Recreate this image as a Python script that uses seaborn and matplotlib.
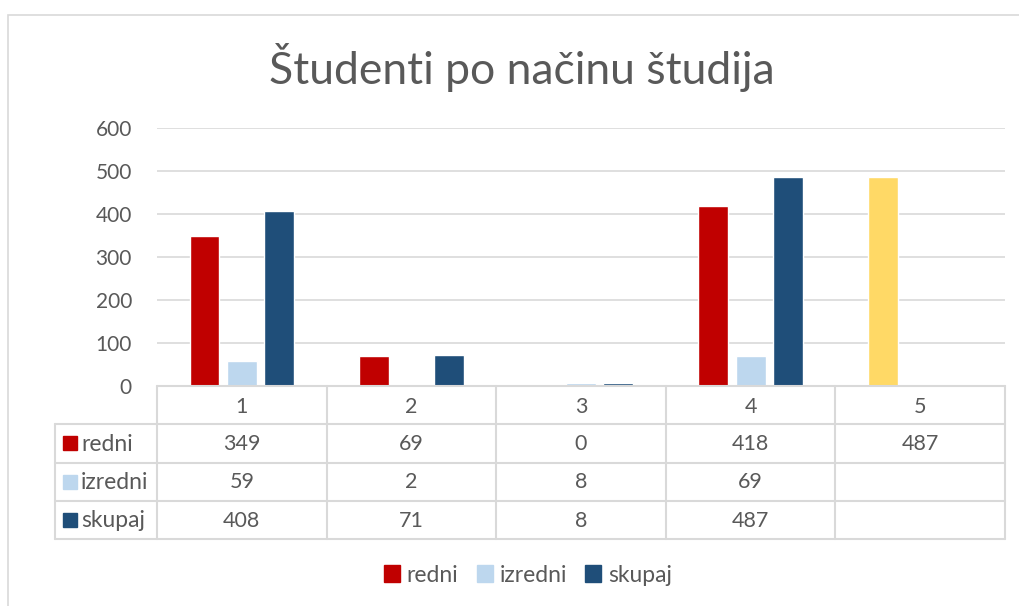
import pandas as pd
import matplotlib.pyplot as plt
import matplotlib.patches as mpatches
import seaborn as sns

# data
categories = ["1", "2", "3", "4", "5"]
series = ["redni", "izredni", "skupaj"]
redni = [349, 69, 0, 418, 487]
izredni = [59, 2, 8, 69, None]
skupaj = [408, 71, 8, 487, None]

colors = {"redni": "#C00000", "izredni": "#BDD7EE", "skupaj": "#1F4E79"}
highlight = "#FFD966"  # category 5 redni bar is yellow in the original
text_col = "#595959"
line_col = "#D9D9D9"

df = pd.DataFrame({"kategorija": categories, "redni": redni, "izredni": izredni, "skupaj": skupaj})
long_df = df.melt(id_vars="kategorija", var_name="nacin", value_name="studenti")

sns.set_theme(style="white")
plt.rcParams["font.family"] = ["Lato", "DejaVu Sans"]

fig = plt.figure(figsize=(10.2, 6.06), dpi=100)
W, H = 1020, 606
ax = fig.add_axes([157 / W, 1 - 386 / H, 848 / W, 258 / H])
tab = fig.add_axes([157 / W, 1 - 539 / H, 848 / W, 153 / H], sharex=ax)

sns.barplot(data=long_df, x="kategorija", y="studenti", hue="nacin", order=categories,
            hue_order=series, palette=colors, width=0.66, gap=0.2, ax=ax, legend=False,
            saturation=1, errorbar=None)

# recolour the lone redni bar in category 5
for bar in ax.containers[0]:
    if bar.get_x() > 3.5:
        bar.set_facecolor(highlight)

ax.set_ylim(0, 600)
ax.set_yticks(range(0, 601, 100))
ax.set_xlim(-0.5, 4.5)
ax.grid(axis="y", color=line_col, linewidth=1.2)
ax.set_axisbelow(True)
for s in ax.spines.values():
    s.set_visible(False)
ax.set_xlabel("")
ax.set_ylabel("")
ax.tick_params(axis="x", bottom=False, labelbottom=False)
ax.tick_params(axis="y", left=False, length=0, labelsize=15, labelcolor=text_col, pad=18)

# data table underneath
tab.set_ylim(4, 0)
tab.axis("off")
left = -0.5 - 102 / 169.6
kw = dict(color=line_col, linewidth=1.5, clip_on=False)
tab.plot([-0.5, 4.5], [0, 0], **kw)
for r in range(1, 5):
    tab.plot([left, 4.5], [r, r], **kw)
tab.plot([left, left], [1, 4], **kw)
for i in range(len(categories) + 1):
    tab.plot([i - 0.5, i - 0.5], [0, 4], **kw)

for i, c in enumerate(categories):
    tab.text(i, 0.55, c, ha="center", va="center", fontsize=15.5, color=text_col)

rows = [redni, izredni, skupaj]
for r, (name, vals) in enumerate(zip(series, rows), start=1):
    tab.add_patch(mpatches.Rectangle((left + 8 / 169.6, r + 0.32), 14 / 169.6, 0.36,
                                     color=colors[name], clip_on=False))
    tab.text(left + 26 / 169.6, r + 0.52, name, ha="left", va="center", fontsize=16.5, color=text_col)
    for i, v in enumerate(vals):
        if v is not None:
            tab.text(i, r + 0.52, f"{v:d}", ha="center", va="center", fontsize=15.5, color=text_col)

fig.suptitle("Študenti po načinu študija", x=0.512, y=1 - 68 / H, va="center",
             fontsize=32, color=text_col)

handles = [mpatches.Patch(color=colors[s], label=s) for s in series]
fig.legend(handles=handles, loc="center", bbox_to_anchor=(528 / W, 1 - 575 / H), ncol=3,
           frameon=False, fontsize=16.5, handlelength=0.7, handleheight=0.7,
           handletextpad=0.3, columnspacing=0.8, labelcolor=text_col)

# chart-area border (top and left edges visible)
fig.add_artist(mpatches.Rectangle((8 / W, -0.1), 1.2, 1.1 - 15 / H, fill=False,
                                  edgecolor=line_col, linewidth=1.2, transform=fig.transFigure))

fig.savefig("out.png", dpi=100, facecolor="white")
